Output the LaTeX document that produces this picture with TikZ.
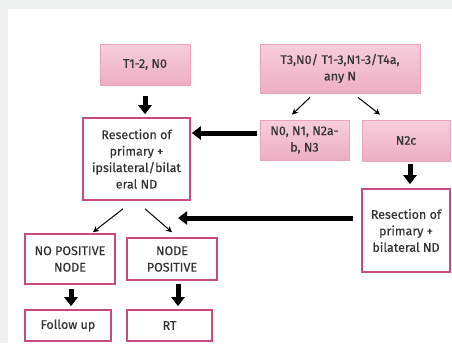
\documentclass[tikz,border=0pt]{standalone}
\usepackage{fontspec}
\setmainfont{Fira Sans}
\newfontfamily\boxfont{Fira Sans}[FakeBold=0.4]
\usetikzlibrary{arrows.meta,calc}
\definecolor{bggray}{HTML}{EEF0EF}
\definecolor{pinktop}{HTML}{F7CEDB}
\definecolor{pinkbot}{HTML}{EDAEC3}
\definecolor{pinkedge}{HTML}{E9A3BA}
\definecolor{magedge}{HTML}{C94A80}
\definecolor{txt}{HTML}{333333}
\tikzset{
  box/.style={rectangle, inner sep=0pt, align=center, text=txt,
    font=\boxfont\fontsize{12.5}{16.5}\selectfont},
  pinkbox/.style={box, draw=pinkedge, line width=0.8pt, top color=pinktop, bottom color=pinkbot},
  whitebox/.style={box, draw=magedge, line width=1.6pt, fill=white},
  bigarrow/.style={line width=5pt, -{Triangle[width=13pt,length=9pt]}},
  thinarrow/.style={line width=1pt, -{Stealth[width=6pt,length=6pt]}}
}
\begin{document}
\begin{tikzpicture}[x=1pt,y=-1pt]
\useasboundingbox (0,0) rectangle (452,343);
\fill[bggray] (0,0) rectangle (452,343);
\fill[white] (8,9) rectangle (452,343);

\node[pinkbox, minimum width=90pt, minimum height=41pt] (t12) at (145,64.5) {T1-2, N0};
\node[pinkbox, minimum width=160pt, minimum height=49pt] (t3) at (340,68.5) {T3,N0/ T1-3,N1-3/T4a,\\any N};
\node[pinkbox, minimum width=89pt, minimum height=40pt] (n0) at (304.5,140) {N0, N1, N2a-\\b, N3};
\node[pinkbox, minimum width=88pt, minimum height=41pt] (n2c) at (406,140.5) {N2c};
\node[whitebox, minimum width=107pt, minimum height=82pt] (res) at (136.5,159) {Resection of\\primary +\\ipsilateral/bilat\\eral ND};
\node[whitebox, minimum width=88pt, minimum height=83pt] (res2) at (406,230.5) {Resection of\\primary +\\bilateral ND};
\node[whitebox, minimum width=90pt, minimum height=50pt] (nopos) at (70,259) {NO POSITIVE\\NODE};
\node[whitebox, minimum width=90pt, minimum height=42pt] (pos) at (172,259) {NODE\\POSITIVE};
\node[whitebox, minimum width=86pt, minimum height=31pt] (fu) at (68,325.5) {Follow up};
\node[whitebox, minimum width=85pt, minimum height=31pt] (rt) at (169.5,325.5) {RT};

% thick arrows
\draw[bigarrow, shorten <=11pt, shorten >=3pt] (t12.south) -- (t12.south |- res.north);
\coordinate (a1) at ($(n0.west)+(-3pt,7pt)$);
\draw[bigarrow, shorten >=1pt] (a1) -- (a1 -| res.east);
\draw[bigarrow, shorten <=3pt, shorten >=4pt] ($(n2c.south)+(4pt,0)$) -- ($(res2.north)+(4pt,0)$);
\coordinate (a2) at ($(res2.west)+(-8pt,12.5pt)$);
\coordinate (a2end) at ($(pos.north)+(6pt,20pt)$);
\draw[bigarrow] (a2) -- (a2 -| a2end);
\draw[bigarrow, shorten <=4pt, shorten >=3pt] ($(nopos.south)+(1pt,0)$) -- ($(fu.north)+(3pt,0)$);
\draw[bigarrow, shorten <=3pt, shorten >=3pt] ($(pos.south)+(6pt,0)$) -- ($(rt.north)+(8.5pt,0)$);

% thin arrows
\draw[thinarrow] ($(t3.south)+(-30pt,-4pt)$) -- ($(n0.north)+(-12.5pt,5pt)$);
\draw[thinarrow] ($(t3.south)+(18pt,-4pt)$) -- ($(n2c.north)+(-26pt,5pt)$);
\draw[thinarrow] ($(res.south)+(-13.5pt,-8pt)$) -- ($(nopos.north)+(23pt,1pt)$);
\draw[thinarrow] ($(res.south)+(8.5pt,-8pt)$) -- ($(pos.north)+(0pt,5pt)$);
\end{tikzpicture}
\end{document}
